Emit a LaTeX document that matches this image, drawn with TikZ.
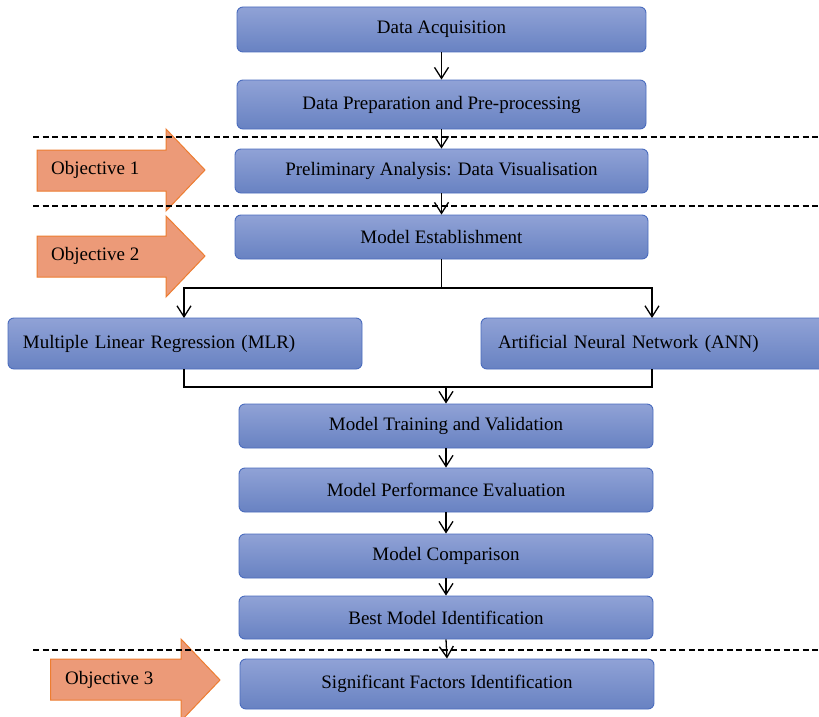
\documentclass[tikz,border=0pt]{standalone}
\usepackage{fontspec}
\setmainfont{Liberation Serif}
\usetikzlibrary{arrows.meta}
\definecolor{boxtop}{RGB}{144,162,214}
\definecolor{boxbot}{RGB}{104,130,194}
\definecolor{boxline}{RGB}{74,108,190}
\definecolor{objfill}{RGB}{236,154,120}
\definecolor{objline}{RGB}{237,125,49}
\tikzset{
  stepbox/.style={draw=boxline, line width=0.9pt, rounded corners=6pt, top color=boxtop, bottom color=boxbot, inner sep=0pt, font=\fontsize{19}{23}\selectfont},
  conn/.style={line width=1.3pt, black},
  arr/.style={conn, -{Straight Barb[length=11pt,width=14pt,line width=1.3pt]}},
  divider/.style={line width=1.4pt, dash pattern=on 6pt off 3.5pt},
  objarrow/.style={fill=objfill, draw=objline, line width=1pt},
  objtext/.style={anchor=west, inner sep=0pt, font=\fontsize{19}{23}\selectfont}
}
\begin{document}
\begin{tikzpicture}[x=1pt,y=-1pt]
\useasboundingbox (0,0) rectangle (819,717);
\clip (0,0) rectangle (819,717);
\fill[white] (0,0) rectangle (819,717);
% objective arrows
\draw[objarrow] (37,150) -- (166,150) -- (166,129) -- (205,170) -- (166,211) -- (166,191) -- (37,191) -- cycle;
\node[objtext] (o1) at (51,170) {Objective 1};
\draw[objarrow] (37,236) -- (166,236) -- (166,216) -- (205,256) -- (166,297) -- (166,277) -- (37,277) -- cycle;
\node[objtext] (o2) at (51,256) {Objective 2};
\draw[objarrow] (50.5,659) -- (181,659) -- (181,639) -- (220,680) -- (181,721) -- (181,700) -- (50.5,700) -- cycle;
\node[objtext] (o3) at (65,680) {Objective 3};
% boxes
\node[stepbox, minimum width=409pt, minimum height=45pt] (A) at (441.5,29.5) {Data Acquisition};
\node[stepbox, minimum width=409pt, minimum height=49pt] (B) at (441.5,104.5) {Data Preparation and Pre-processing};
\node[stepbox, minimum width=413pt, minimum height=44pt] (C) at (441.5,171) {Preliminary Analysis: Data Visualisation};
\node[stepbox, minimum width=413pt, minimum height=44pt] (D) at (441.5,237) {Model Establishment};
\node[stepbox, minimum width=354pt, minimum height=51pt, text width=324pt, align=left] (MLR) at (185,343.5) {Multiple Linear Regression (MLR)};
\node[stepbox, minimum width=349pt, minimum height=51pt, text width=315pt, align=left] (ANN) at (655.5,343.5) {Artificial Neural Network (ANN)};
\node[stepbox, minimum width=414pt, minimum height=44pt] (E) at (446,426) {Model Training and Validation};
\node[stepbox, minimum width=414pt, minimum height=44pt] (F) at (446,490) {Model Performance Evaluation};
\node[stepbox, minimum width=414pt, minimum height=44pt] (G) at (446,556) {Model Comparison};
\node[stepbox, minimum width=414pt, minimum height=43pt] (H) at (446,617.5) {Best Model Identification};
\node[stepbox, minimum width=414pt, minimum height=50pt] (I) at (447,684) {Significant Factors Identification};
% connectors
\draw[arr] (A.south) -- (B.north);
\draw[arr] (B.south) -- (C.north);
\draw[arr] (C.south) -- (D.north);
\coordinate (split) at (441.5,288);
\coordinate (mlrin) at (184,318);
\coordinate (annin) at (652,318);
\draw[conn] (D.south) -- (split);
\draw[arr] (split) -| (mlrin);
\draw[arr] (split) -| (annin);
\coordinate (merge) at (446,387);
\coordinate (mlrout) at (184,369);
\coordinate (annout) at (652,369);
\draw[conn] (mlrout) |- (merge) -| (annout);
\draw[arr] (merge) -- (E.north);
\draw[arr] (E.south) -- (F.north);
\draw[arr] (F.south) -- (G.north);
\draw[arr] (G.south) -- (H.north);
\draw[arr] (H.south) -- (I.north);
% dividers
\coordinate (d1l) at (33,137); \coordinate (d1r) at (819,137);
\coordinate (d2l) at (33,206); \coordinate (d2r) at (819,206);
\coordinate (d3l) at (33,650); \coordinate (d3r) at (819,650);
\draw[divider] (d1l) -- (d1r);
\draw[divider] (d2l) -- (d2r);
\draw[divider] (d3l) -- (d3r);
\end{tikzpicture}
\end{document}
